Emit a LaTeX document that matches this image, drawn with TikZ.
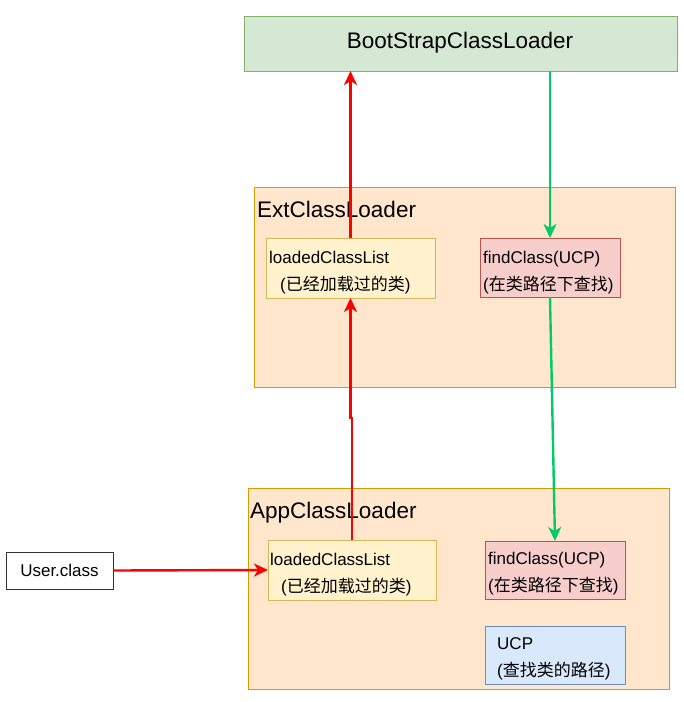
\documentclass[tikz,border=0pt]{standalone}
\usepackage{fontspec}
\setmainfont{Liberation Sans}
\newfontfamily\cjk{Noto Sans CJK SC}
\usetikzlibrary{arrows.meta}
\definecolor{gfill}{HTML}{D5E8D4}\definecolor{gdraw}{HTML}{82B366}
\definecolor{ofill}{HTML}{FFE6CC}\definecolor{odraw}{HTML}{D79B00}
\definecolor{yfill}{HTML}{FFF2CC}\definecolor{ydraw}{HTML}{D6B656}
\definecolor{rfill}{HTML}{F8CECC}\definecolor{rdraw}{HTML}{B85450}
\definecolor{bfill}{HTML}{DAE8FC}\definecolor{bdraw}{HTML}{6C8EBF}
\definecolor{redarrow}{HTML}{FF0000}\definecolor{greenarrow}{HTML}{00CC66}
\begin{document}
\begin{tikzpicture}[x=1pt,y=-1pt,
  box/.style={draw,line width=1pt,inner sep=0pt,outer sep=0pt,anchor=north west},
  big/.style={font=\fontsize{22.5}{27}\selectfont,inner sep=0pt},
  small/.style={font=\fontsize{17}{20}\selectfont,inner sep=0pt,anchor=base west},
  arrtip/.style={-{Stealth[length=14pt,width=13pt,inset=4pt]}},
  redarr/.style={draw=redarrow,line width=2.4pt,arrtip},
  greenarr/.style={draw=greenarrow,line width=2.4pt,arrtip}]
\useasboundingbox (0,0) rectangle (684,702);
% containers
\node[box,fill=gfill,draw=gdraw,minimum width=433pt,minimum height=55pt] (boot) at (244,16) {};
\node[big,anchor=center] (boottxt) at (460,43) {BootStrapClassLoader};
\node[box,fill=ofill,draw=odraw,minimum width=421pt,minimum height=200pt] (ext) at (254,187) {};
\node[big,anchor=base west] (exttxt) at (257,217) {ExtClassLoader};
\node[box,fill=ofill,draw=odraw,minimum width=421pt,minimum height=201pt] (app) at (248,488) {};
\node[big,anchor=base west] (apptxt) at (250,518) {AppClassLoader};
% inner boxes
\node[box,fill=yfill,draw=ydraw,minimum width=169pt,minimum height=60pt] (eload) at (266,238) {};
\node[small] (eloadA) at (269,263) {loadedClassList};
\node[small] (eloadB) at (280,290) {({\cjk 已经加载过的类})};
\node[box,fill=rfill,draw=rdraw,minimum width=140pt,minimum height=59pt] (efind) at (480,238) {};
\node[small] (efindA) at (483,263) {findClass(UCP)};
\node[small] (efindB) at (483,290) {({\cjk 在类路径下查找})};
\node[box,fill=yfill,draw=ydraw,minimum width=168pt,minimum height=60pt] (aload) at (268,540) {};
\node[small] (aloadA) at (270,565) {loadedClassList};
\node[small] (aloadB) at (281,592) {({\cjk 已经加载过的类})};
\node[box,fill=rfill,draw=rdraw,minimum width=140pt,minimum height=58pt] (afind) at (485,541) {};
\node[small] (afindA) at (488,564) {findClass(UCP)};
\node[small] (afindB) at (488,591) {({\cjk 在类路径下查找})};
\node[box,fill=bfill,draw=bdraw,minimum width=140pt,minimum height=58pt] (ucp) at (485,626) {};
\node[small] (ucpA) at (497,649) {UCP};
\node[small] (ucpB) at (497,676) {({\cjk 查找类的路径})};
\node[box,fill=white,draw=black!80,minimum width=107pt,minimum height=37pt] (user) at (6,552) {};
\node[font=\fontsize{17}{20}\selectfont] (usertxt) at (user.center) {User.class};
% connectors
\draw[redarr] (user.east) -- (aload.west);
\draw[redarr] (aload.north) -- ++(0,-122) -| (eload.south);
\draw[redarr] (eload.north) -- ++(0,-84) -| (eload.north |- boot.south);
\draw[greenarr] (boot.south -| efind.north) -- (efind.north);
\draw[greenarr] (efind.south) -- (afind.north);
\end{tikzpicture}
\end{document}
